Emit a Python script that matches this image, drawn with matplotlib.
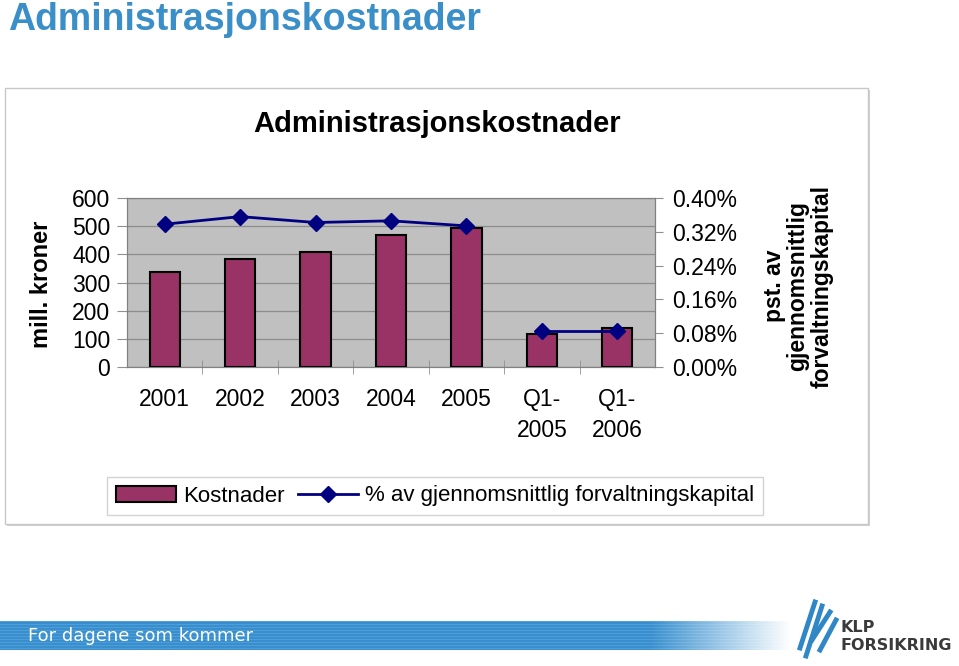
import numpy as np
import matplotlib
matplotlib.use("Agg")
import matplotlib.pyplot as plt
from matplotlib.patches import Rectangle
from matplotlib.lines import Line2D

plt.rcParams['font.family'] = ['Liberation Sans', 'DejaVu Sans']

categories = ["2001", "2002", "2003", "2004", "2005", "Q1-\n2005", "Q1-\n2006"]
kostnader = [338, 383, 410, 468, 494, 117, 137]
pct_kapital = [0.338, 0.356, 0.342, 0.346, 0.334, 0.086, 0.086]
n_annual = 5

left_ticks = [0, 100, 200, 300, 400, 500, 600]
right_ticks = [0.00, 0.08, 0.16, 0.24, 0.32, 0.40]

W, H = 959, 666


def fx(x):
    return x / W


def fy(y):
    return 1 - y / H


fig = plt.figure(figsize=(W / 100, H / 100), dpi=100)

# page title
fig.text(fx(8), fy(20), "Administrasjonskostnader", color="#3B8FC8",
         fontsize=27, fontweight="bold", ha="left", va="center")

# chart area box with shadow
fig.add_artist(Rectangle((fx(7), fy(526)), fx(863), 436 / H, transform=fig.transFigure,
                         facecolor="#D0D0D0", edgecolor="none", zorder=0))
fig.add_artist(Rectangle((fx(5), fy(524)), fx(863), 436 / H, transform=fig.transFigure,
                         facecolor="white", edgecolor="#C8C8C8", lw=1, zorder=0))

fig.text(fx(437), fy(124), "Administrasjonskostnader", fontsize=21,
         fontweight="bold", ha="center", va="center")

ax = fig.add_axes([fx(127), fy(367), fx(528), 169 / H])
ax.set_facecolor("#C0C0C0")
x = np.arange(len(categories))
bars = ax.bar(x, kostnader, width=0.4, color="#993366", edgecolor="black",
              linewidth=1.5, zorder=3, label="Kostnader")
ax.set_xlim(-0.5, len(categories) - 0.5)
ax.set_ylim(0, 600)
ax.set_yticks(left_ticks)
ax.set_yticklabels([str(v) for v in left_ticks], fontsize=16.5)
ax.yaxis.grid(True, color="#8C8C8C", lw=0.9, zorder=1)
ax.set_axisbelow(True)
ax.set_xticks(x)
ax.set_xticklabels(categories, fontsize=16.5, linespacing=1.45)
ax.set_xticks(x[:-1] + 0.5, minor=True)
ax.tick_params(axis="x", which="major", length=0, pad=15)
ax.tick_params(axis="x", which="minor", length=10, direction="inout", color="#909090")
ax.tick_params(axis="y", length=7, color="#909090", pad=5)
for s in ax.spines.values():
    s.set_color("#808080")

ax2 = ax.twinx()
ax2.set_ylim(0, 0.40)
line, = ax2.plot(x[:n_annual], pct_kapital[:n_annual], color="#000080", lw=2,
                 marker="D", markersize=8, zorder=4,
                 label="% av gjennomsnittlig forvaltningskapital")
ax2.plot(x[n_annual:], pct_kapital[n_annual:], color="#000080", lw=2,
         marker="D", markersize=8, zorder=4)
ax2.set_yticks(right_ticks)
ax2.set_yticklabels([f"{v:.2f}%" for v in right_ticks], fontsize=16.5)
ax2.tick_params(axis="y", length=6, color="#909090", pad=6)
for s in ax2.spines.values():
    s.set_color("#808080")

fig.text(fx(42), fy(284), "mill. kroner", rotation=90, fontsize=17,
         fontweight="bold", ha="center", va="center")
fig.text(fx(798), fy(286), "pst. av\ngjennomsnittlig\nforvaltningskapital",
         rotation=90, fontsize=16.5, fontweight="bold", ha="center", va="center",
         multialignment="center", linespacing=1.05)

leg = fig.legend([bars, line], ["Kostnader", "% av gjennomsnittlig forvaltningskapital"],
                 loc="center", bbox_to_anchor=(fx(435), fy(496)), ncol=2,
                 fontsize=16, frameon=True, fancybox=False, handlelength=2.7,
                 handletextpad=0.3, columnspacing=0.6, borderpad=0.4, borderaxespad=0)
leg.get_frame().set_edgecolor("#C8C8C8")
leg.get_frame().set_linewidth(1)

# footer band with fade
band_ax = fig.add_axes([0, fy(650), fx(830), 29 / H])
cols = 830
rows = 29
img = np.ones((rows, cols, 4))
base = np.array([0.23, 0.56, 0.80])
alpha = np.clip((790 - np.arange(cols)) / (790 - 650), 0, 1)
for r in range(rows):
    shade = base + (0.06 if r % 3 == 0 else 0.0)
    img[r, :, :3] = np.clip(shade, 0, 1)
    img[r, :, 3] = alpha
band_ax.imshow(img, aspect="auto", interpolation="nearest")
band_ax.axis("off")
fig.text(fx(28), fy(636), "For dagene som kommer", color="white", fontsize=13,
         family="DejaVu Sans", ha="left", va="center")

# logo
for x0, y0, x1, y1 in [(800, 648, 815, 602), (806, 656, 822, 606), (812, 640, 830, 612),
                       (820, 650, 836, 620)]:
    fig.add_artist(Line2D([fx(x0), fx(x1)], [fy(y0), fy(y1)], transform=fig.transFigure,
                          color="#2F87C6", lw=3.5))
fig.text(fx(841), fy(627), "KLP", color="#3A3A3A", fontsize=11.5, fontweight="bold",
         family="DejaVu Sans", ha="left", va="center")
fig.text(fx(841), fy(646), "FORSIKRING", color="#3A3A3A", fontsize=11.5, fontweight="bold",
         family="DejaVu Sans", ha="left", va="center")

fig.savefig("out.png", dpi=100)
